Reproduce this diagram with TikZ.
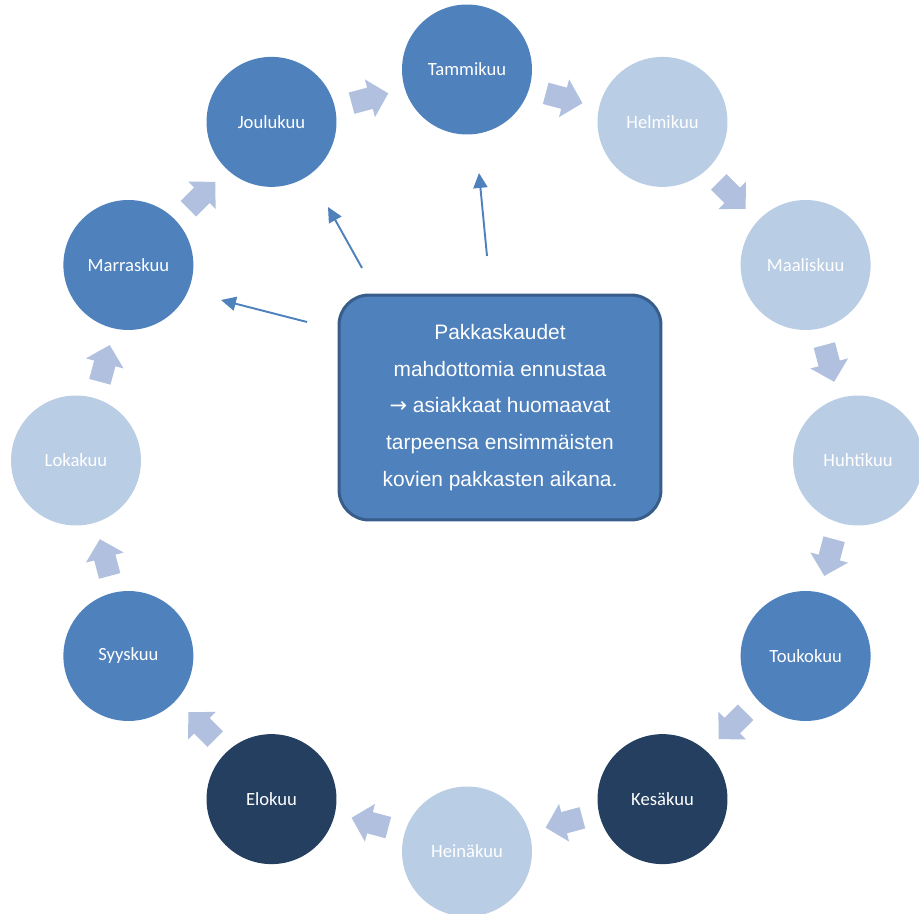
\documentclass[tikz,border=0pt]{standalone}
\usepackage{fontspec}
\setmainfont{Liberation Sans}
\newfontfamily\monthfont{Carlito}
\newfontfamily\arrowfont{DejaVu Sans}
\usetikzlibrary{arrows.meta}
\definecolor{midblue}{HTML}{4F81BD}
\definecolor{lightblue}{HTML}{B9CDE5}
\definecolor{darkblue}{HTML}{243F60}
\definecolor{arrowblue}{RGB}{176,192,222}
\definecolor{boxline}{HTML}{385D8A}

\begin{document}
\begin{tikzpicture}[x=0.02cm, y=0.02cm,
    month/.style={circle, minimum size=2.6cm, inner sep=0pt, text=white,
        font=\monthfont\fontsize{10.6}{12}\selectfont},
    blockarrow/.style={fill=arrowblue},
    hint/.style={draw=midblue, line width=1.1pt, -{Triangle[length=8.5pt, width=8pt]}}]
    \useasboundingbox (0,0) rectangle (919,913);

    % Months round the ring
    \foreach \name/\label/\col [count=\i from 0] in {tammi/Tammikuu/midblue,
        helmi/Helmikuu/lightblue, maalis/Maaliskuu/lightblue, huhti/Huhtikuu/lightblue,
        touko/Toukokuu/midblue, kesa/Kesäkuu/darkblue, heina/Heinäkuu/lightblue,
        elo/Elokuu/darkblue, syys/Syyskuu/midblue, loka/Lokakuu/lightblue,
        marras/Marraskuu/midblue, joulu/Joulukuu/midblue}
        \node[month, fill=\col] (\name) at ({467+391*cos(90-30*\i)}, {452.5+391*sin(90-30*\i)}) {\label};

    % Block arrows between the months
    \foreach \i in {0,...,11}
        \fill[blockarrow, shift={({467+375*cos(75-30*\i)}, {452.5+375*sin(75-30*\i)})}, rotate={-15-30*\i}]
            (-19,-11) -- (0,-11) -- (0,-19.5) -- (19,0) -- (0,19.5) -- (0,11) -- (-19,11) -- cycle;

    % Note in the middle
    \node[draw=boxline, fill=midblue, line width=1.7pt, rounded corners=0.6cm,
        minimum width=6.44cm, minimum height=4.5cm, text=white, align=center,
        font=\fontsize{11.9}{21}\selectfont] (note) at (500,505.5)
        {Pakkaskaudet\\mahdottomia ennustaa\\{\arrowfont →} asiakkaat huomaavat\\tarpeensa ensimmäisten\\kovien pakkasten aikana.};

    % Pointers from the note
    \coordinate (t1) at (307,591);
    \coordinate (h1) at (221,613);
    \coordinate (t2) at (362,645);
    \coordinate (h2) at (328,706);
    \coordinate (t3) at (487,657);
    \coordinate (h3) at (479,740);
    \draw[hint] (t1) -- (h1);
    \draw[hint] (t2) -- (h2);
    \draw[hint] (t3) -- (h3);
\end{tikzpicture}
\end{document}
